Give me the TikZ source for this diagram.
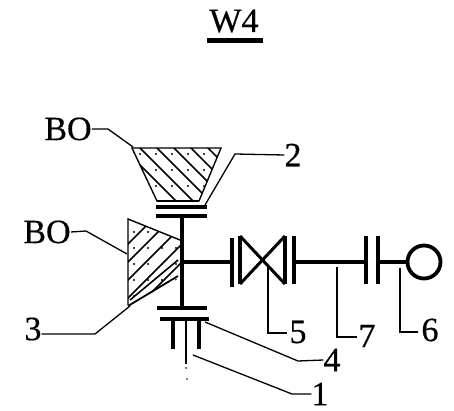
\documentclass[tikz,border=0pt]{standalone}
\usepackage{fontspec}
\setmainfont[FakeBold=0.5]{Liberation Serif}
\tikzset{
  shaftline/.style={line width=3.5pt},
  diskline/.style={line width=4pt},
  thinline/.style={line width=1.4pt},
  leaderline/.style={line width=1.3pt},
  hatchline/.style={line width=1.6pt},
  lab/.style={inner sep=0pt,font=\fontsize{34}{34}\selectfont}
}
\begin{document}
\begin{tikzpicture}[x=1pt,y=-1pt]
  \useasboundingbox (0,0) rectangle (454,411);

  % labels
  \node[lab] (title) at (234,21) {W4};
  \node[lab] (boa) at (68,129) {BO};
  \node[lab] (bob) at (47,232) {BO};
  \node[lab] (lab1) at (320,394) {1};
  \node[lab] (lab2) at (293,155) {2};
  \node[lab] (lab3) at (33,329) {3};
  \node[lab] (lab4) at (332,360) {4};
  \node[lab] (lab5) at (298,332) {5};
  \node[lab] (lab6) at (430,330) {6};
  \node[lab] (lab7) at (367,336) {7};
  \draw[line width=5pt] (207,41) -- (263,41);

  % upper wedge
  \begin{scope}
    \clip (132,148) -- (221,148) -- (199,201) -- (157,201) -- cycle;
    \foreach \c in {-25,-8,9,26,43,60}
      \draw[hatchline] (\c+120,120) -- (\c+220,220);
    \foreach \x in {140,156,...,220}
      \foreach \y in {154,170,186,202}
        \fill (\x,\y) circle (1.2pt);
  \end{scope}
  \draw[thinline] (199,201) -- (157,201) -- (132,148) -- (221,148) -- (199,201);
  \draw[line width=2.4pt] (157,201) -- (199,201);

  % left wedge
  \begin{scope}
    \clip (128,219) -- (180,240) -- (180,278) -- (128,305) -- cycle;
    \foreach \c in {372,390,408,426,444}
      \draw[hatchline] (\c-100,100) -- (\c-320,320);
    \foreach \x in {134,148,...,176}
      \foreach \y in {232,248,...,296}
        \fill (\x,\y) circle (1.2pt);
  \end{scope}
  \draw[thinline] (128,305) -- (128,219) -- (180,240);
  \draw[hatchline] (130,300) -- (178,260);
  \draw[line width=1.8pt] (128,306) -- (178,276);

  % shafts and gears
  \draw[diskline] (156,207) -- (207,207);
  \draw[diskline] (156,216) -- (207,216);
  \draw[shaftline] (182,216) -- (182,308);
  \draw[shaftline] (182,262) -- (232,262);
  \draw[diskline] (157,308) -- (207,308);
  \draw[diskline] (160,319) -- (209,319);
  \draw[diskline] (173,319) -- (173,349);
  \draw[diskline] (199,319) -- (199,349);
  \draw[thinline] (186,319) -- (186,364);
  \fill (186,368) circle (0.8pt) (187,379) circle (0.8pt);

  % valve and couplings
  \draw[diskline] (232,238) -- (232,287);
  \draw[diskline] (240,236) -- (240,284);
  \draw[diskline] (285,236) -- (285,284);
  \draw[line width=3pt] (240,236) -- (285,284) (240,284) -- (285,236);
  \draw[diskline] (294,236) -- (294,284);
  \draw[shaftline] (294,262) -- (366,262);
  \draw[diskline] (366,236) -- (366,284);
  \draw[diskline] (378,236) -- (378,284);
  \draw[shaftline] (378,262) -- (407,262);
  \draw[line width=3.8pt] (424,262) circle (16.5);

  % leaders
  \coordinate (tip1) at (193,355);
  \coordinate (tip2) at (205,205);
  \coordinate (tip3) at (130,306);
  \coordinate (tip4) at (205,322);
  \coordinate (tip5) at (268,266);
  \coordinate (tip6) at (400,268);
  \coordinate (tip7) at (337,267);
  \coordinate (tipa) at (133,147);
  \coordinate (tipb) at (127,254);
  \draw[leaderline] (boa.east) -- (108,129) -- (tipa);
  \draw[leaderline] (bob.east) -- (86,231) -- (tipb);
  \draw[leaderline] (tip2) -- (235,154) -- (lab2.west);
  \draw[leaderline] (lab3.east) ++(0,5) -- (95,334) -- (tip3);
  \draw[leaderline] (tip4) -- (298,361) -- (lab4.west);
  \draw[leaderline] (tip1) -- (292,394) -- (lab1.west);
  \draw[leaderline] (tip5) -- (268,333) -- (287,333);
  \draw[leaderline] (tip7) -- (337,337) -- (357,337);
  \draw[leaderline] (tip6) -- (400,332) -- (418,332);
\end{tikzpicture}
\end{document}
